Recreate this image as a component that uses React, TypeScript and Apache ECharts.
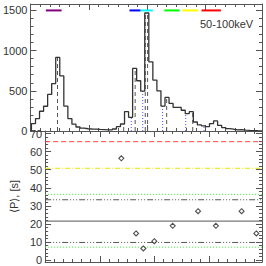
import React, { useEffect, useRef } from "react";
import * as echarts from "echarts";

// ---- data ----
const X_MIN = 0;
const X_MAX = 119;
const BIN_START = 0.5; // s
const BIN_WIDTH = 2.08; // s
const counts = [
  92, 155, 246, 308, 455, 590, 915, 685, 310, 155, 85, 50, 35, 28, 25, 23, 20, 18, 15, 14,
  25, 54, 87, 240, 170, 778, 625, 496, 1468, 860, 633, 500, 310, 418, 343, 294, 294, 258, 217, 240,
  112, 75, 65, 55, 92, 125, 70, 42, 30, 22, 15, 18, 12, 8, 5, 3, 2,
];
const dashedTimes = [13.9, 47.9, 53.8, 59.0, 60.2, 70.0, 83.4];
const dottedTimes = [51.8, 57.7, 67.9, 79.8, 89.2];

const intervalStarts = [7.9, 50.9, 56.6, 68.8, 78.1, 87.9];
const intervalEnds = [16.0, 56.6, 62.9, 76.7, 86.3, 97.9];
const intervalColors = ["#800080", "#0000ff", "#00ffff", "#00ff00", "#ffff00", "#ff0000"];
const intervalLevel = 1500;

const pulseTimes = [41.8, 49.9, 53.9, 59.9, 70.0, 83.9, 93.7, 107.8, 115.9];
const periods = [56.3, 14.8, 6.5, 10.5, 19.0, 27.1, 19.0, 27.1, 14.8];

const meanLevel = 21.6;
const altSigmaLevels = [33.4, 9.8];
const sigma1Levels = [36.4, 7.2];
const sigma2Level = 50.8;
const sigma3Level = 65.5;

const topTicks = ["0", "500", "1000", "1500"];
const bottomTicks = ["0", "10", "20", "30", "40", "50", "60", "70"];
const energyLabel = "50-100keV";
const yTitle = "⟨P⟩, [s]";

// ---- style ----
const AXIS = "#555";
const TEXT = "#333";
const FONT = "Liberation Sans, Arial, sans-serif";

function countAt(t: number) {
  const k = Math.floor((t - BIN_START) / BIN_WIDTH);
  return k >= 0 && k < counts.length ? counts[k] : 0;
}

function xAxis(gridIndex: number, position: string) {
  return {
    type: "value",
    gridIndex,
    position,
    min: X_MIN,
    max: X_MAX,
    interval: 30,
    axisLine: { show: true, onZero: false, lineStyle: { color: AXIS, width: 1 } },
    axisTick: { show: true, inside: true, length: 6, lineStyle: { color: AXIS } },
    minorTick: { show: true, splitNumber: 6, length: 3, lineStyle: { color: AXIS } },
    axisLabel: { show: false },
    splitLine: { show: false },
  };
}

function yAxis(
  gridIndex: number, position: string, min: number, max: number, split: number, minor: number,
  labels: boolean, ticks: string[], showMin: boolean
) {
  return {
    type: "value",
    gridIndex,
    position,
    min,
    max,
    splitNumber: split,
    axisLine: { show: true, onZero: false, lineStyle: { color: AXIS, width: 1 } },
    axisTick: { show: true, inside: true, length: 6, lineStyle: { color: AXIS } },
    minorTick: { show: true, splitNumber: minor, length: 3, lineStyle: { color: AXIS } },
    axisLabel: {
      show: labels,
      showMinLabel: showMin,
      showMaxLabel: false,
      margin: 3,
      color: TEXT,
      fontSize: 11,
      fontFamily: FONT,
      formatter: (v: number) => {
        const s = String(Math.round(v));
        return ticks.includes(s) && Math.abs(v - Math.round(v)) < 1e-6 ? s : "";
      },
    },
    splitLine: { show: false },
  };
}

export default function App() {
  const ref = useRef<HTMLDivElement>(null);
  useEffect(() => {
    if (!ref.current) return;
    const chart = echarts.init(ref.current, null, { renderer: "svg" });

    const hist: any[] = [[BIN_START, 0]];
    counts.forEach((c, k) => hist.push([BIN_START + k * BIN_WIDTH, c]));
    hist.push([BIN_START + counts.length * BIN_WIDTH, counts[counts.length - 1]]);

    const series: any[] = [];
    series.push({
      type: "line", xAxisIndex: 0, yAxisIndex: 0, step: "end", symbol: "none",
      data: hist, lineStyle: { color: "#333", width: 1.3 }, z: 5,
    });
    dashedTimes.forEach((t) =>
      series.push({
        type: "line", xAxisIndex: 0, yAxisIndex: 0, symbol: "none",
        data: [[t, 0], [t, countAt(t)]],
        lineStyle: { color: "#555", width: 1, type: [4, 3] }, z: 3,
      })
    );
    dottedTimes.forEach((t) =>
      series.push({
        type: "line", xAxisIndex: 0, yAxisIndex: 0, symbol: "none",
        data: [[t, 0], [t, countAt(t)]],
        lineStyle: { color: "#5050ff", width: 1, type: [1, 2] }, z: 3,
      })
    );
    intervalStarts.forEach((s, i) =>
      series.push({
        type: "line", xAxisIndex: 0, yAxisIndex: 0, symbol: "none",
        data: [[s, intervalLevel], [intervalEnds[i], intervalLevel]],
        lineStyle: { color: intervalColors[i], width: 2 }, z: 4,
      })
    );

    const hline = (v: number, color: string, type: any) =>
      series.push({
        type: "line", xAxisIndex: 2, yAxisIndex: 2, symbol: "none",
        data: [[X_MIN, v], [X_MAX, v]],
        lineStyle: { color, width: 1, type }, z: 3,
      });
    hline(sigma3Level, "#ff4040", [5, 3]);
    hline(sigma2Level, "#e6e600", [5, 2, 1, 2]);
    sigma1Levels.forEach((v) => hline(v, "#33ee33", [1, 2]));
    altSigmaLevels.forEach((v) => hline(v, "#555", [6, 2, 1, 2, 1, 2, 1, 2]));
    hline(meanLevel, "#555", "solid");

    series.push({
      type: "scatter", xAxisIndex: 2, yAxisIndex: 2, symbol: "diamond", symbolSize: 5,
      data: pulseTimes.map((t, i) => [t, periods[i]]),
      itemStyle: { color: "rgba(255,255,255,0)", borderColor: "#222", borderWidth: 1.1 }, z: 6,
    });

    chart.setOption({
      animation: false,
      backgroundColor: "#fff",
      grid: [
        { left: 27, top: 4, width: 235, height: 127, containLabel: false },
        { left: 27, top: 131, width: 235, height: 131, containLabel: false },
      ],
      xAxis: [xAxis(0, "bottom"), xAxis(0, "top"), xAxis(1, "bottom"), xAxis(1, "top")],
      yAxis: [
        yAxis(0, "left", 0, 1580, 3, 5, true, topTicks, true),
        yAxis(0, "right", 0, 1580, 3, 5, false, topTicks, true),
        {
          ...yAxis(1, "left", -1, 71.4, 7, 5, true, bottomTicks, false),
          name: yTitle,
          nameLocation: "middle",
          nameRotate: 90,
          nameGap: 15,
          nameTextStyle: { color: TEXT, fontSize: 11, fontFamily: FONT },
        },
        yAxis(1, "right", -1, 71.4, 7, 5, false, bottomTicks, false),
      ],
      graphic: [
        {
          type: "text", left: 200, top: 18,
          style: { text: energyLabel, fill: TEXT, fontSize: 11, fontFamily: FONT },
        },
      ],
      series,
    });
    return () => chart.dispose();
  }, []);
  return <div ref={ref} style={{ position: "absolute", left: 0, top: 0, width: 266, height: 266 }} />;
}
